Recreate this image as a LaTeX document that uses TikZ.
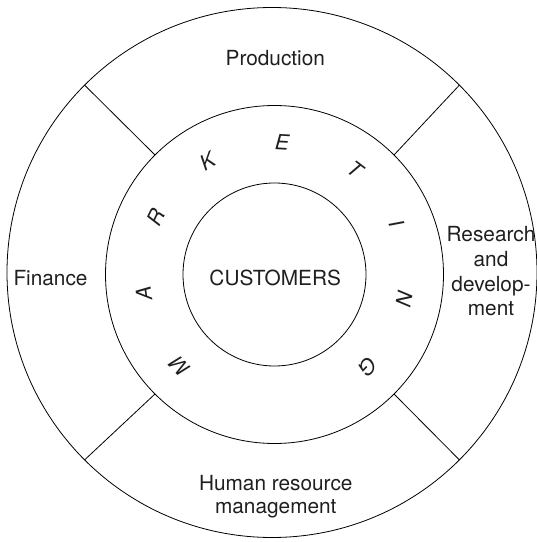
\documentclass[tikz,border=0pt]{standalone}
\usepackage{fontspec}
\setmainfont{TeX Gyre Heros}
\usetikzlibrary{calc}
\begin{document}
\begin{tikzpicture}[x=1pt,y=1pt,
  ring/.style={draw, circle, line width=0.8pt, inner sep=0pt, outer sep=0pt},
  lbl/.style={font=\fontsize{20.8}{24.8}\selectfont, text=black!88, inner sep=0pt, align=center},
  letter/.style={font=\fontsize{21}{24}\selectfont\itshape, text=black!88, inner sep=0pt},
  divider/.style={line width=0.8pt}]
\useasboundingbox (0,0) rectangle (537,542);
\node[ring, minimum size=530pt] (outer) at (272,269.5) {};
\node[ring, minimum size=338pt] (mid) at (274.5,267.5) {};
\node[ring, minimum size=183pt] (inner) at (274.5,267.5) {};
\foreach \a in {45,135,225,315}
  \draw[divider] (mid.\a) -- (outer.\a);
\node[lbl, anchor=base] (prod) at (275.3,476) {Production};
\node[lbl, anchor=base] (fin) at (50.5,256) {Finance};
\node[lbl, anchor=base] (cust) at (275.2,256.3) {CUSTOMERS};
\node[lbl] (rd) at (491,270.7) {Research\\and\\develop-\\ment};
\node[lbl] (hrm) at (275.8,45.3) {Human resource\\[-2pt]management};
\foreach \c/\ang [count=\i from 0] in {M/224.1,A/188.2,R/154.3,K/120.6,E/86.7,T/52.5,I/22.7,N/-10.6,G/-44.5}{
  \node[letter, rotate=\ang-90] (mk\i) at ($(inner.center)+(\ang:132)$) {\c};
}
\end{tikzpicture}
\end{document}
